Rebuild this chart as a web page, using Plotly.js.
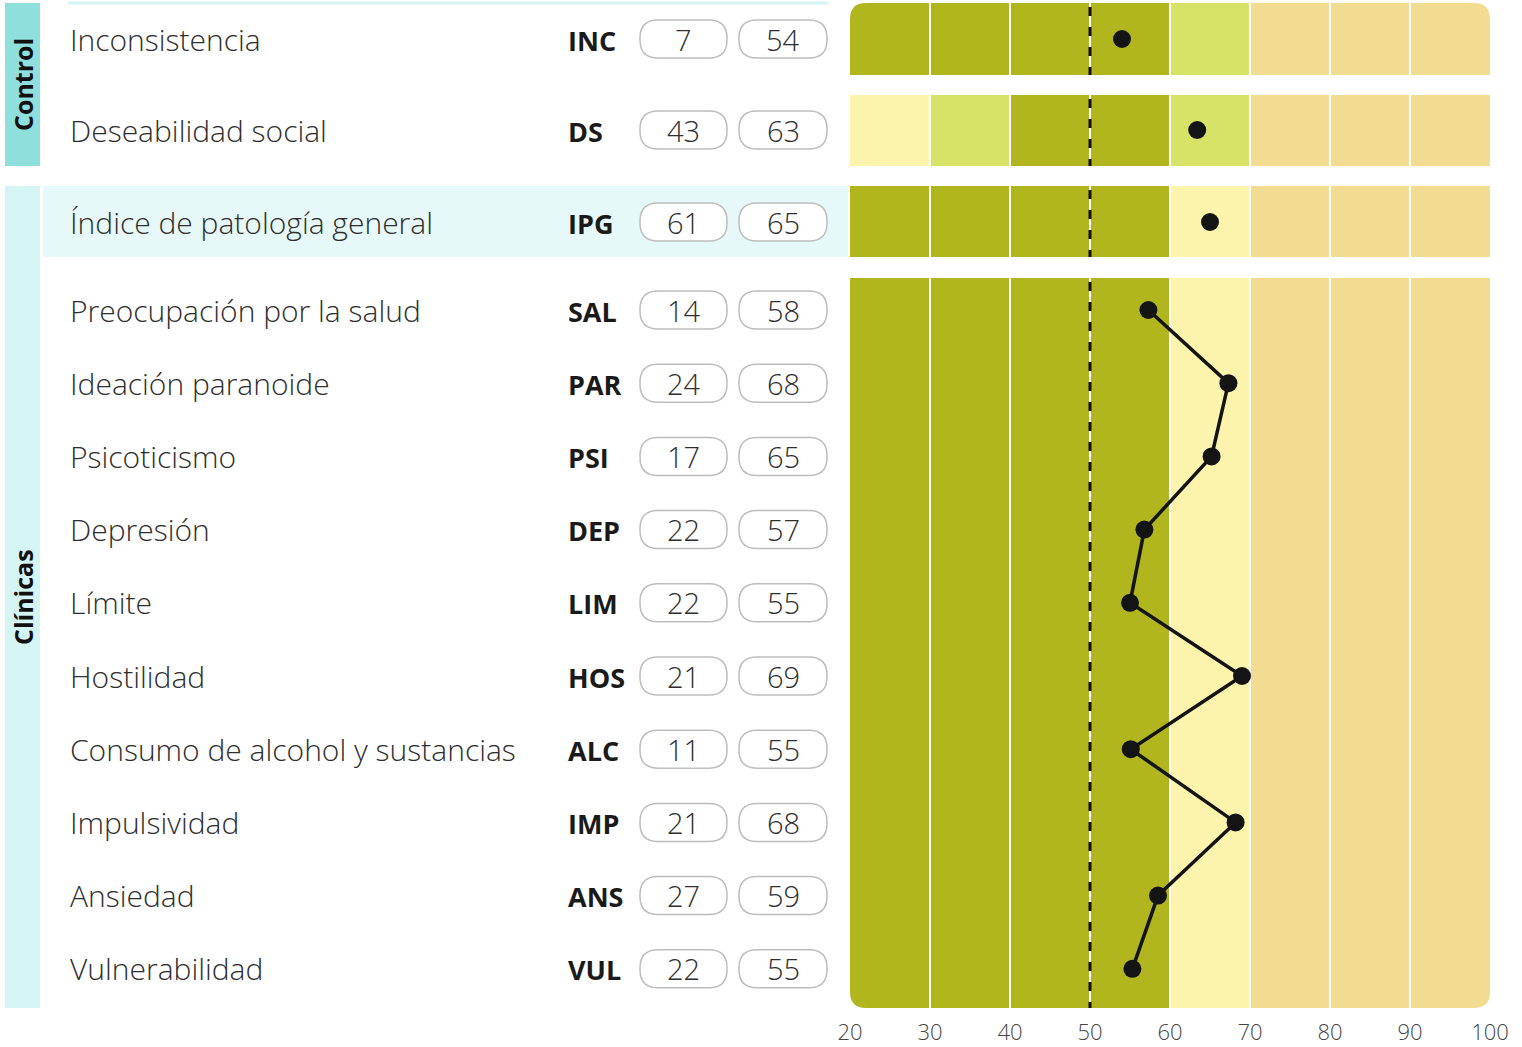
<!DOCTYPE html>
<html>
<head>
<meta charset="utf-8">
<script src="https://cdn.plot.ly/plotly-3.0.1.min.js"></script>
<style>html,body{margin:0;padding:0;background:#fff;}#chart{width:1522px;height:1047px;}</style>
</head>
<body>
<div id="chart"></div>
<script>
// ---- data ----
const scaleNames = ["Inconsistencia","Deseabilidad social","Índice de patología general","Preocupación por la salud","Ideación paranoide","Psicoticismo","Depresión","Límite","Hostilidad","Consumo de alcohol y sustancias","Impulsividad","Ansiedad","Vulnerabilidad"];
const scaleCodes = ["INC","DS","IPG","SAL","PAR","PSI","DEP","LIM","HOS","ALC","IMP","ANS","VUL"];
const rawScores = [7,43,61,14,24,17,22,22,21,11,21,27,22];
const tScores = [54,63,65,58,68,65,57,55,69,55,68,59,55];
const plottedT = [54,63.4,65,57.3,67.3,65.2,56.8,55,69,55.1,68.2,58.5,55.3];
const groupNames = ["Control","Clínicas"];
const tickVals = [20,30,40,50,60,70,80,90,100];
const meanT = 50;
// band colours per 10-point segment (20-30 ... 90-100)
const bandINC = ["D","D","D","D","L","T","T","T"];
const bandDS  = ["Y","L","D","D","L","T","T","T"];
const bandIPG = ["D","D","D","D","Y","T","T","T"];
const bandCLIN= ["D","D","D","D","Y","T","T","T"];

// ---- styling / layout helpers ----
const COL = {D:"#b1b61e", L:"#d6e366", Y:"#fcf4ad", T:"#f2dc91"};
const FONT = "Open Sans, Noto Sans, sans-serif";
const px2x = px => 20 + (px - 850) / 8;   // x data units are 8 px each
const xRange = [px2x(0), px2x(1522)];

// row centres (y axis in pixel units)
function rowY(i){
  if (i === 0) return 39;
  if (i === 1) return 130;
  if (i === 2) return 222;
  return 310 + (i - 3) * 73.2;
}
const ys = scaleNames.map((_, i) => rowY(i));

const shapes = [];
const annotations = [];

function rrPath(x0, y0, x1, y1, r, corners){
  const X = p => px2x(p);
  let d = "";
  d += "M" + X(x0 + (corners.tl ? r : 0)) + "," + y0;
  d += " L" + X(x1 - (corners.tr ? r : 0)) + "," + y0;
  if (corners.tr) d += " Q" + X(x1) + "," + y0 + " " + X(x1) + "," + (y0 + r);
  d += " L" + X(x1) + "," + (y1 - (corners.br ? r : 0));
  if (corners.br) d += " Q" + X(x1) + "," + y1 + " " + X(x1 - r) + "," + y1;
  d += " L" + X(x0 + (corners.bl ? r : 0)) + "," + y1;
  if (corners.bl) d += " Q" + X(x0) + "," + y1 + " " + X(x0) + "," + (y1 - r);
  d += " L" + X(x0) + "," + (y0 + (corners.tl ? r : 0));
  if (corners.tl) d += " Q" + X(x0) + "," + y0 + " " + X(x0 + r) + "," + y0;
  d += " Z";
  return d;
}
const tx2px = t => 850 + (t - 20) * 8;

// group side bars and highlights
shapes.push({type:"rect", xref:"x", yref:"y", x0:px2x(5), x1:px2x(40), y0:3, y1:166, fillcolor:"#8fe0dc", line:{width:0}, layer:"below"});
shapes.push({type:"rect", xref:"x", yref:"y", x0:px2x(5), x1:px2x(40), y0:186, y1:1008, fillcolor:"#d5f5f5", line:{width:0}, layer:"below"});
shapes.push({type:"rect", xref:"x", yref:"y", x0:px2x(43), x1:px2x(848), y0:186, y1:257, fillcolor:"#e7f8f8", line:{width:0}, layer:"below"});
shapes.push({type:"line", xref:"x", yref:"y", x0:px2x(68), x1:px2x(828), y0:3, y1:3, line:{color:"#d3f3f3", width:3}, layer:"below"});

// bands
function addBand(colors, y0, y1, roundTop, roundBottom){
  colors.forEach((c, k) => {
    const a = tickVals[k], b = tickVals[k + 1];
    const first = k === 0, last = k === colors.length - 1;
    const corners = {tl: roundTop && first, tr: roundTop && last, br: roundBottom && last, bl: roundBottom && first};
    shapes.push({type:"path", xref:"x", yref:"y", path: rrPath(tx2px(a), y0, tx2px(b), y1, 16, corners),
      fillcolor: COL[c], line:{width:0}, layer:"below"});
  });
  tickVals.slice(1, -1).forEach(v => {
    shapes.push({type:"line", xref:"x", yref:"y", x0:v, x1:v, y0:y0, y1:y1, line:{color:"#ffffff", width:2}, layer:"below"});
  });
  shapes.push({type:"line", xref:"x", yref:"y", x0:meanT, x1:meanT, y0:y0 + 4, y1:y1, line:{color:"#111111", width:3, dash:"9px,11px"}, layer:"below"});
}
addBand(bandINC, 3, 75, true, false);
addBand(bandDS, 95, 166, false, false);
addBand(bandIPG, 186, 257, false, false);
addBand(bandCLIN, 278, 1008, false, true);

// labels + pills
scaleNames.forEach((n, i) => {
  const y = ys[i];
  annotations.push({xref:"x", yref:"y", x:px2x(68), y:y, text:n, showarrow:false, xanchor:"left", yanchor:"middle",
    font:{family:FONT, size:30, weight:300, color:"#2e2e2e"}});
  annotations.push({xref:"x", yref:"y", x:px2x(566), y:y + 1, text:"<b>" + scaleCodes[i] + "</b>", showarrow:false, xanchor:"left", yanchor:"middle",
    font:{family:FONT, size:27, color:"#1a1a1a"}});
  [[640, 727, rawScores[i]], [739, 827, tScores[i]]].forEach(p => {
    shapes.push({type:"path", xref:"x", yref:"y", path: rrPath(p[0], y - 19, p[1], y + 19, 18, {tl:true,tr:true,br:true,bl:true}),
      fillcolor:"#ffffff", line:{color:"#bdbdbd", width:1.5}, layer:"below"});
    annotations.push({xref:"x", yref:"y", x:px2x((p[0] + p[1]) / 2), y:y, text:String(p[2]), showarrow:false, xanchor:"center", yanchor:"middle",
      font:{family:FONT, size:29, weight:300, color:"#2e2e2e"}});
  });
});

// group titles
annotations.push({xref:"x", yref:"y", x:px2x(23), y:85, text:"<b>" + groupNames[0] + "</b>", textangle:-90, showarrow:false, xanchor:"center", yanchor:"middle", font:{family:FONT, size:25, color:"#111"}});
annotations.push({xref:"x", yref:"y", x:px2x(23), y:597, text:"<b>" + groupNames[1] + "</b>", textangle:-90, showarrow:false, xanchor:"center", yanchor:"middle", font:{family:FONT, size:25, color:"#111"}});

// traces
const ctrlIdx = [0, 1, 2];
const clinIdx = scaleNames.map((_, i) => i).filter(i => i >= 3);
const traces = [
  {type:"scatter", mode:"markers", x: ctrlIdx.map(i => plottedT[i]), y: ctrlIdx.map(i => ys[i]),
   marker:{color:"#141414", size:18}, hoverinfo:"skip", showlegend:false, cliponaxis:false},
  {type:"scatter", mode:"lines+markers", x: clinIdx.map(i => plottedT[i]), y: clinIdx.map(i => ys[i]),
   line:{color:"#141414", width:3.5}, marker:{color:"#141414", size:18}, hoverinfo:"skip", showlegend:false, cliponaxis:false}
];

const layout = {
  width:1522, height:1047,
  margin:{l:0, r:0, t:0, b:37, pad:0},
  paper_bgcolor:"#ffffff", plot_bgcolor:"rgba(0,0,0,0)",
  showlegend:false,
  xaxis:{range:xRange, tickvals:tickVals, ticktext:tickVals.map(String), showgrid:false, zeroline:false, showline:false,
    ticks:"", ticklabelstandoff:7, tickfont:{family:FONT, size:22, weight:300, color:"#444444"}, fixedrange:true},
  yaxis:{range:[1010, 0], visible:false, showgrid:false, zeroline:false, fixedrange:true},
  shapes:shapes, annotations:annotations
};
Plotly.newPlot("chart", traces, layout, {displayModeBar:false, staticPlot:true});
</script>
</body>
</html>
